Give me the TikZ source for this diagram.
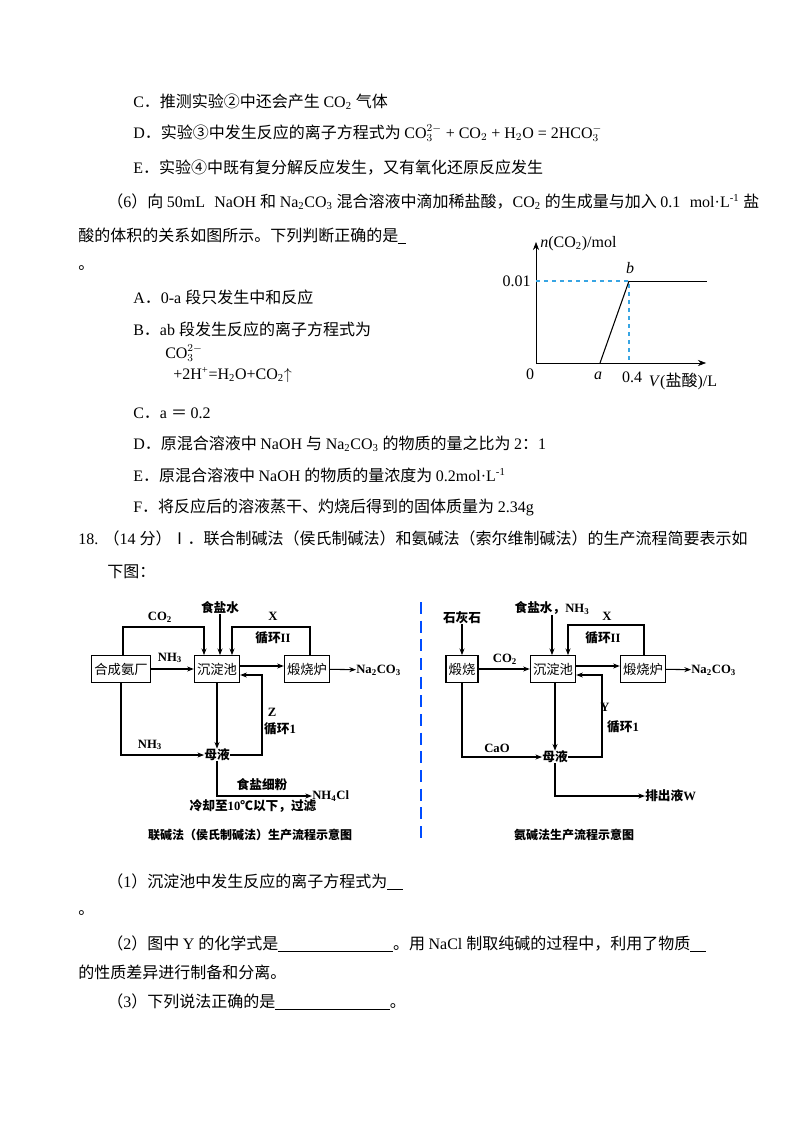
\documentclass[tikz,border=0pt]{standalone}
\usepackage{fontspec}
\setmainfont{Liberation Serif}
\newfontfamily\cjk{Noto Sans CJK SC}
\usetikzlibrary{arrows.meta}
% switch to the CJK face for Chinese characters
\XeTeXinterchartokenstate=1
\newXeTeXintercharclass\zhclass
\makeatletter
\def\zhrange#1#2{\count@=#1 \loop\XeTeXcharclass\count@=\zhclass\advance\count@ 1 \ifnum\count@<#2 \repeat}
\zhrange{"4E00}{"A000}\zhrange{"3000}{"3040}\zhrange{"FF00}{"FFF0}
\zhrange{"2460}{"2500}\zhrange{"2150}{"2190}\zhrange{"2100}{"2110}\zhrange{"2190}{"2200}
\makeatother
\XeTeXinterchartoks 0 \zhclass = {\cjk}
\XeTeXinterchartoks 4095 \zhclass = {\cjk}
\XeTeXinterchartoks \zhclass 0 = {\rmfamily}
\XeTeXinterchartoks 4095 0 = {\rmfamily}
\newcommand{\blank}[1]{\underline{\hspace{#1}}}
\begin{document}
\begin{tikzpicture}[x=0.75pt, y=-0.75pt]
        % Define styles
        \tikzstyle{line}=[anchor=west, inner sep=0pt, font=\fontsize{12}{14}\selectfont]
        \tikzstyle{unit}=[rectangle, draw, thick, minimum height=20pt, inner sep=2pt, font=\fontsize{10}{12}\selectfont]
        \tikzstyle{tag}=[inner sep=0pt, font=\fontsize{9.5}{11}\selectfont\bfseries]
        \tikzstyle{flow}=[-{Stealth[length=5pt]}, thick]
        \tikzstyle{caption}=[inner sep=0pt, font=\fontsize{9}{11}\selectfont\bfseries]
        \useasboundingbox (0,0) rectangle (800,1130);
        \fill[white] (0,0) rectangle (800,1130);

        % Text lines
        \node[line] (optC) at (133,102) {C．推测实验②中还会产生 CO\textsubscript{2} 气体};
        \node[line] (optD) at (133,133) {D．实验③中发生反应的离子方程式为 CO$_3^{2-}$ + CO$_2$ + H$_2$O = 2HCO$_3^-$};
        \node[line] (optE) at (133,168) {E．实验④中既有复分解反应发生，又有氧化还原反应发生};
        \node[line] (q6a) at (107,202) {（6）向 50mL\,\, NaOH 和 Na\textsubscript{2}CO\textsubscript{3} 混合溶液中滴加稀盐酸，CO\textsubscript{2} 的生成量与加入 0.1\,\, mol·L\textsuperscript{-1} 盐};
        \node[line] (q6b) at (78,236) {酸的体积的关系如图所示。下列判断正确的是\blank{6pt}};
        \node[line] (q6c) at (78,268) {。};
        \node[line] (q6A) at (133,297) {A．0-a 段只发生中和反应};
        \node[line] (q6B) at (133,329) {B．ab 段发生反应的离子方程式为};
        \node[line] (q6Ba) at (165,353) {CO$_3^{2-}$};
        \node[line] (q6Bb) at (173,375) {+2H\textsuperscript{+}=H\textsubscript{2}O+CO\textsubscript{2}$\uparrow$};
        \node[line] (q6C) at (133,413) {C．a ＝ 0.2};
        \node[line] (q6D) at (133,444) {D．原混合溶液中 NaOH 与 Na\textsubscript{2}CO\textsubscript{3} 的物质的量之比为 2：1};
        \node[line] (q6E) at (133,475) {E．原混合溶液中 NaOH 的物质的量浓度为 0.2mol·L\textsuperscript{-1}};
        \node[line] (q6F) at (133,507) {F．将反应后的溶液蒸干、灼烧后得到的固体质量为 2.34g};
        \node[line] (q18a) at (78,538) {18.\,\,（14 分）Ⅰ．联合制碱法（侯氏制碱法）和氨碱法（索尔维制碱法）的生产流程简要表示如};
        \node[line] (q18b) at (107,572) {下图：};
        \node[line] (q18c) at (107,882) {（1）沉淀池中发生反应的离子方程式为\blank{12pt}};
        \node[line] (q18d) at (78,913) {。};
        \node[line] (q18e) at (107,944) {（2）图中 Y 的化学式是\blank{86pt}。用 NaCl 制取纯碱的过程中，利用了物质\blank{12pt}};
        \node[line] (q18f) at (78,972) {的性质差异进行制备和分离。};
        \node[line] (q18g) at (107,1002) {（3）下列说法正确的是\blank{86pt}。};

        % Graph
        \coordinate (O) at (536,363);
        \coordinate (xend) at (706,363);
        \coordinate (yend) at (536,242);
        \coordinate (pa) at (600,363);
        \coordinate (pb) at (629,281);
        \coordinate (yb) at (536,281);
        \coordinate (xb) at (629,363);
        \coordinate (pend) at (707,281);
        \draw[-{Stealth[length=6pt]}] (O) -- (xend);
        \draw[-{Stealth[length=6pt]}] (O) -- (yend);
        \draw[cyan!80!blue!80, dashed, thick] (yb) -- (pb) -- (xb);
        \draw[thick] (pa) -- (pb);
        \draw (pb) -- (pend);
        \node[line, anchor=south west] (ylab) at (540,251) {\textit{n}(CO\textsubscript{2})/mol};
        \node[line, anchor=east] (y001) at (531,281) {0.01};
        \node[line, anchor=center] (lb) at (630,268) {\textit{b}};
        \node[line, anchor=center] (l0) at (530,374) {0};
        \node[line, anchor=center] (la) at (598,376) {\textit{a}};
        \node[line, anchor=center] (l04) at (632,377) {0.4};
        \node[line, anchor=center] (xlab) at (683,381) {\textit{V}(盐酸)/L};

        % Left flow: joint soda process
        \node[unit] (plant) at (121,669) {合成氨厂};
        \node[unit] (pool) at (217,669) {沉淀池};
        \node[unit] (kiln) at (307,669) {煅烧炉};
        \node[tag] (mother) at (217,755) {母液};
        \node[tag, anchor=west] (soda) at (356,670) {Na\textsubscript{2}CO\textsubscript{3}};
        \node[tag] (brine) at (220,608) {食盐水};
        \node[tag, anchor=west] (nh4cl) at (312,796) {NH\textsubscript{4}Cl};
        \draw[flow] (plant.north -| 123,0) |- (204,627) -- (204,0 |- pool.north);
        \draw[flow] (brine) -- (220,0 |- pool.north);
        \draw[flow] (kiln.north -| 310,0) |- (232,627) -- (232,0 |- pool.north);
        \draw[flow] (plant) -- (pool);
        \draw[flow] (pool.east |- 0,666) -- (kiln.west |- 0,666);
        \draw[flow] (kiln) -- (soda);
        \draw[flow] (mother.east) -| (262,675) -- (pool.east |- 0,675);
        \draw[flow] (pool) -- (mother);
        \draw[flow] (plant.south -| 121,0) |- (mother.west);
        \draw[flow] (mother.south) |- (nh4cl.west);
        \node[tag] (lco2) at (160,617) {CO\textsubscript{2}};
        \node[tag] (lx) at (273,616) {X};
        \node[tag] (lc2) at (273,638) {循环II};
        \node[tag] (lnh3a) at (170,658) {NH\textsubscript{3}};
        \node[tag] (lnh3b) at (150,745) {NH\textsubscript{3}};
        \node[tag] (lz) at (272,712) {Z};
        \node[tag] (lc1) at (280,729) {循环1};
        \node[tag] (lsalt) at (262,785) {食盐细粉};
        \node[tag] (lcool) at (253,806) {冷却至10℃以下，过滤};
        \node[caption] (capl) at (250,835) {联碱法（侯氏制碱法）生产流程示意图};

        % Divider
        \coordinate (dtop) at (421,602);
        \coordinate (dbot) at (421,842);
        \draw[blue!70!cyan, line width=2.2pt, dash pattern=on 9pt off 5pt] (dtop) -- (dbot);

        % Right flow: ammonia soda process
        \node[unit] (burn) at (462,669) {煅烧};
        \node[unit] (pool2) at (553,669) {沉淀池};
        \node[unit] (kiln2) at (643,669) {煅烧炉};
        \node[tag] (mother2) at (555,757) {母液};
        \node[tag] (lime) at (462,618) {石灰石};
        \node[tag] (brine2) at (552,608) {食盐水，NH\textsubscript{3}};
        \node[tag, anchor=west] (soda2) at (691,670) {Na\textsubscript{2}CO\textsubscript{3}};
        \node[tag, anchor=west] (waste) at (645,796) {排出液W};
        \draw[flow] (lime) -- (burn);
        \draw[flow] (burn) -- (pool2);
        \draw[flow] (brine2) -- (552,0 |- pool2.north);
        \draw[flow] (kiln2.north -| 644,0) |- (568,625) -- (568,0 |- pool2.north);
        \draw[flow] (pool2.east |- 0,666) -- (kiln2.west |- 0,666);
        \draw[flow] (kiln2) -- (soda2);
        \draw[flow] (mother2.east) -| (602,675) -- (pool2.east |- 0,675);
        \draw[flow] (pool2.south -| 555,0) -- (mother2);
        \draw[flow] (burn) |- (mother2.west);
        \draw[flow] (mother2.south) |- (waste.west);
        \node[tag] (lco2b) at (505,659) {CO\textsubscript{2}};
        \node[tag] (lx2) at (607,616) {X};
        \node[tag] (lc22) at (603,638) {循环II};
        \node[tag] (ly) at (605,707) {Y};
        \node[tag] (lc12) at (623,727) {循环1};
        \node[tag] (lcao) at (497,748) {CaO};
        \node[caption] (capr) at (574,835) {氨碱法生产流程示意图};
\end{tikzpicture}
\end{document}
